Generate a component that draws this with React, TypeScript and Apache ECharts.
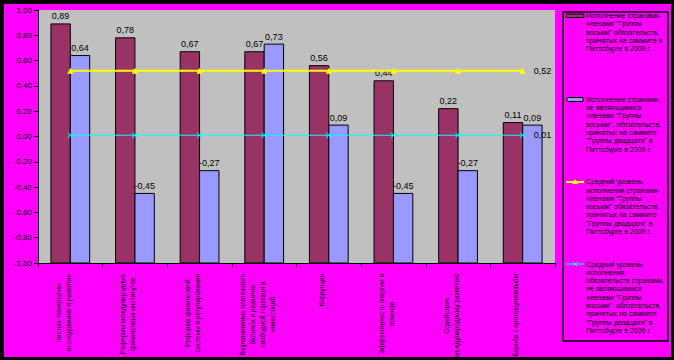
import React, { useEffect, useRef } from 'react';
import * as echarts from 'echarts';

const categories = [
  'Чистые технологии:\nисследования и развитие',
  'Реформы международных\nфинансовых институтов',
  'Реформа финансовой\nсистемы и регулирования',
  'Выравнивание платежного\nбаланса и развитие\nсвободной торговли и\nинвестиций',
  'Коррупция',
  'Эффективность энергии и\nпомощи',
  'Содействие\nмеждународному развитию',
  'Борьба с протекционизмом',
];

const g8Values = [0.89, 0.78, 0.67, 0.67, 0.56, 0.44, 0.22, 0.11];
const nonG8Values = [0.64, -0.45, -0.27, 0.73, 0.09, -0.45, -0.27, 0.09];
const g8Average = [0.52, 0.52, 0.52, 0.52, 0.52, 0.52, 0.52, 0.52];
const nonG8Average = [0.01, 0.01, 0.01, 0.01, 0.01, 0.01, 0.01, 0.01];

const yMin = -1;
const yMax = 1;
const yStep = 0.2;

const seriesNames = [
  'Исполнение странами-\nчленами "Группы\nвосьми" обязательств,\nпринятых на саммите в\nПиттсбурге в 2009 г.',
  'Исполнение странами,\nне являющимися\nчленами "Группы\nвосьми", обязательств,\nпринятых на саммите\n"Группы двадцати" в\nПиттсбурге в 2009 г.',
  'Средний уровень\nисполнения странами-\nчленами "Группы\nвосьми" обязательств,\nпринятых на саммите\n"Группы двадцати" в\nПиттсбурге в 2009 г.',
  'Средний уровень\nисполнения\nобязательств странами,\nне являющимися\nчленами "Группы\nвосьми", обязательств,\nпринятых на саммите\n"Группы двадцати" в\nПиттсбурге в 2009 г.',
];

const FONT = '"Liberation Sans", Arial, sans-serif';
const fmt = (v: number) => v.toFixed(2).replace('.', ',');
const X_SYMBOL = 'path://M0,1L1,0L5,4L9,0L10,1L6,5L10,9L9,10L5,6L1,10L0,9L4,5Z';

function barSeries(name: string, values: number[], color: string, side: number) {
  return {
    type: 'custom',
    name,
    data: values.map((v, i) => [i, v]),
    encode: { x: 0, y: 1 },
    z: 2,
    renderItem: (params: any, api: any) => {
      const i = api.value(0);
      const v = api.value(1);
      const top = api.coord([i, v]);
      const base = api.coord([i, yMin]);
      const band = api.size([1, 0])[0];
      const w = band * 0.3;
      const x0 = side < 0 ? top[0] - w : top[0];
      return {
        type: 'group',
        children: [
          {
            type: 'rect',
            shape: { x: x0, y: top[1], width: w, height: base[1] - top[1] },
            style: { fill: color, stroke: '#000', lineWidth: 1 },
          },
          {
            type: 'text',
            x: x0 + w / 2,
            y: top[1] - 3,
            z2: 10,
            style: {
              text: fmt(v),
              fill: '#000',
              font: `9px ${FONT}`,
              textAlign: 'center',
              textVerticalAlign: 'bottom',
              align: 'center',
              verticalAlign: 'bottom',
            },
          },
        ],
      };
    },
  };
}

function legendText(x: number, y: number, text: string) {
  return {
    type: 'text',
    x,
    y,
    style: {
      text,
      fill: '#000',
      font: `7px ${FONT}`,
      lineHeight: 8.3,
      textAlign: 'left',
      textVerticalAlign: 'top',
      align: 'left',
      verticalAlign: 'top',
    },
  };
}

export default function App() {
  const ref = useRef<HTMLDivElement>(null);
  useEffect(() => {
    if (!ref.current) return;
    const chart = echarts.init(ref.current, null, { renderer: 'svg' });
    const last = categories.length - 1;
    const option: any = {
      animation: false,
      backgroundColor: '#ff00ff',
      grid: {
        left: 34,
        top: 6,
        right: 116,
        bottom: 94,
        show: true,
        backgroundColor: '#c0c0c0',
        borderWidth: 0,
        containLabel: false,
        outerBoundsMode: 'none',
      },
      xAxis: {
        type: 'category',
        data: categories,
        boundaryGap: true,
        axisLine: { onZero: false, lineStyle: { color: '#000', width: 1 } },
        axisTick: { show: true, length: 4, lineStyle: { color: '#000' } },
        splitLine: { show: false },
        axisLabel: {
          interval: 0,
          rotate: 90,
          margin: 11,
          color: '#000',
          fontSize: 6.5,
          fontFamily: FONT,
          lineHeight: 10,
          padding: [0, 0, 14, 0],
          hideOverlap: false,
          formatter: (val: string) =>
            val
              .split('\n')
              .map((l) => `{c|${l}}`)
              .join('\n'),
          rich: {
            c: { align: 'center', fontSize: 6.5, lineHeight: 10, fontFamily: FONT, color: '#000' },
          },
        },
      },
      yAxis: {
        type: 'value',
        min: yMin,
        max: yMax,
        interval: yStep,
        axisLine: { show: true, lineStyle: { color: '#000', width: 1 } },
        axisTick: { show: true, length: 4, lineStyle: { color: '#000' } },
        splitLine: { show: false },
        axisLabel: {
          margin: 6,
          color: '#000',
          fontSize: 8,
          fontFamily: FONT,
          formatter: (v: number) => fmt(v),
        },
      },
      series: [
        barSeries(seriesNames[0], g8Values, '#993366', -1),
        barSeries(seriesNames[1], nonG8Values, '#9999ff', 1),
        {
          type: 'line',
          name: seriesNames[2],
          data: g8Average,
          z: 5,
          symbol: 'triangle',
          symbolSize: 6,
          lineStyle: { color: '#ffff00', width: 2 },
          itemStyle: { color: '#ffff00' },
          label: {
            show: true,
            position: 'right',
            distance: 8,
            color: '#000',
            fontSize: 9,
            fontFamily: FONT,
            formatter: (p: any) => (p.dataIndex === last ? fmt(p.value) : ''),
          },
        },
        {
          type: 'line',
          name: seriesNames[3],
          data: nonG8Average,
          z: 5,
          symbol: X_SYMBOL,
          symbolSize: 6,
          lineStyle: { color: '#00ffff', width: 1 },
          itemStyle: { color: '#00ffff' },
          label: {
            show: true,
            position: 'right',
            distance: 8,
            color: '#000',
            fontSize: 9,
            fontFamily: FONT,
            formatter: (p: any) => (p.dataIndex === last ? fmt(p.value) : ''),
          },
        },
      ],
      graphic: [
        {
          type: 'rect',
          shape: { x: 559, y: 8, width: 105, height: 329 },
          style: { fill: 'none', stroke: '#000', lineWidth: 1.5 },
        },
        {
          type: 'rect',
          shape: { x: 562, y: 10, width: 18, height: 3.5 },
          style: { fill: '#993366', stroke: '#000', lineWidth: 1 },
        },
        legendText(582, 7.5, seriesNames[0]),
        {
          type: 'rect',
          shape: { x: 563, y: 93.5, width: 16, height: 4 },
          style: { fill: '#9999ff', stroke: '#000', lineWidth: 1 },
        },
        legendText(582, 91.2, seriesNames[1]),
        {
          type: 'line',
          shape: { x1: 562, y1: 178, x2: 580, y2: 178 },
          style: { stroke: '#ffff00', lineWidth: 2 },
        },
        {
          type: 'polygon',
          shape: { points: [[571, 175], [574, 180], [568, 180]] },
          style: { fill: '#ffff00' },
        },
        legendText(582, 173.6, seriesNames[2]),
        {
          type: 'line',
          shape: { x1: 562, y1: 260, x2: 580, y2: 260 },
          style: { stroke: '#00ffff', lineWidth: 1 },
        },
        {
          type: 'line',
          shape: { x1: 569, y1: 258, x2: 573, y2: 262 },
          style: { stroke: '#00ffff', lineWidth: 1 },
        },
        {
          type: 'line',
          shape: { x1: 573, y1: 258, x2: 569, y2: 262 },
          style: { stroke: '#00ffff', lineWidth: 1 },
        },
        legendText(582, 255.9, seriesNames[3]),
      ],
    };
    chart.setOption(option);
    return () => chart.dispose();
  }, []);

  return (
    <div
      style={{
        position: 'fixed',
        left: 0,
        top: 0,
        width: 674,
        height: 360,
        background: '#000',
        overflow: 'hidden',
      }}
    >
      <div
        ref={ref}
        style={{ position: 'absolute', left: 4, top: 4, width: 667, height: 353 }}
      />
    </div>
  );
}
